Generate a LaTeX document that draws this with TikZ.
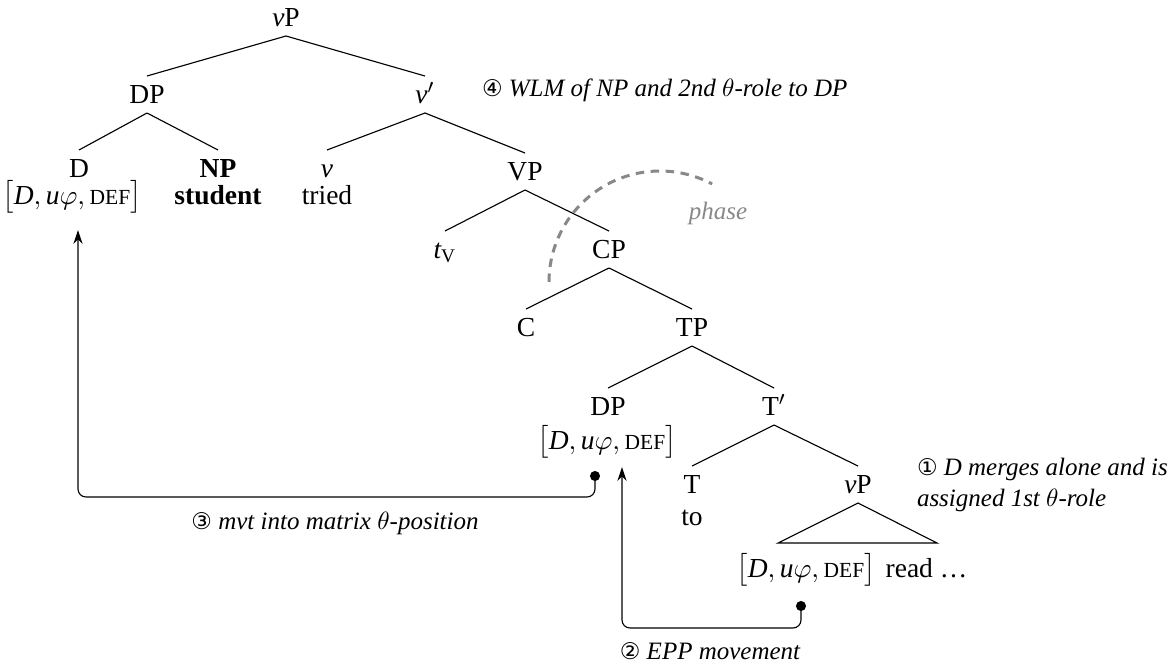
\documentclass[tikz,border=0pt]{standalone}
\usepackage{amsmath}
\usepackage{fontspec}
\setmainfont{Liberation Serif}
\newfontfamily\circfont{DejaVu Sans}[Scale=0.92]
\usetikzlibrary{arrows.meta}

\definecolor{phasegray}{RGB}{136,136,136}

% feature bundle of the determiner
\newcommand\smc[1]{{\fontsize{8.6pt}{9pt}\selectfont #1}}
\newcommand\feat{$\bigl[\textit{D}, \textit{u}\varphi, \text{\smc{DEF}}\bigr]$}
\newcommand\cn[1]{{\normalfont\circfont #1}}

\tikzset{
  tn/.style={anchor=base, inner sep=0pt, outer sep=0pt},
  branch/.style={line width=0.45pt},
  mvt/.style={line width=0.45pt, rounded corners=3.2pt,
    {Circle[length=4pt]}-{Stealth[length=5.5pt,width=3.6pt]}},
  note/.style={font=\fontsize{10pt}{12.4pt}\selectfont\itshape, inner sep=0pt,
    outer sep=0pt, anchor=base west},
  phaseline/.style={draw=phasegray, line width=1.2pt, dash pattern=on 3.4pt off 2.6pt},
}

\begin{document}
\fontsize{11pt}{13pt}\selectfont
\begin{tikzpicture}[x=0.4pt, y=-0.4pt]
\useasboundingbox (0,0) rectangle (1167,667);

% tree nodes (placed on their baselines)
\node[tn] (vP)      at (286,26)  {\textit{v}P};
\node[tn] (DP)      at (147,103) {DP};
\node[tn] (vbar)    at (425,103) {\textit{v}$'$};
\node[tn] (D)       at (79,177)  {D};
\node[tn] (Dfeat)   at (72,204)  {\feat};
\node[tn] (NP)      at (218,177) {\textbf{NP}};
\node[tn] (student) at (218,204) {\textbf{student}};
\node[tn] (v)       at (327,177) {\textit{v}};
\node[tn] (tried)   at (327,204) {tried};
\node[tn] (VP)      at (525,180) {VP};
\node[tn] (tV)      at (445,258) {$\textit{t}_{\text{V}}$};
\node[tn] (CP)      at (609,258) {CP};
\node[tn] (C)       at (526,336) {C};
\node[tn] (TP)      at (692,336) {TP};
\node[tn] (DPb)     at (608,415) {DP};
\node[tn] (DPbfeat) at (607,449) {\feat};
\node[tn] (Tbar)    at (774,415) {T$'$};
\node[tn] (T)       at (692,493) {T};
\node[tn] (to)      at (692,525) {to};
\node[tn] (vPb)     at (858,493) {\textit{v}P};
\node[tn] (vPfeat)  at (806,577) {\feat};
\node[tn, anchor=base west] (read) at ([xshift=4pt]vPfeat.base east) {read \dots};

% branches
\foreach \p/\c in {vP/DP, vP/vbar, DP/D, DP/NP, vbar/v, vbar/VP, VP/tV, VP/CP,
                   CP/C, CP/TP, TP/DPb, TP/Tbar, Tbar/T, Tbar/vPb}
  \draw[branch] ([yshift=-4pt]\p.base) -- ([yshift=10.8pt]\c.base);

% triangle over the lower vP
\draw[branch] ([yshift=-4pt]vPb.base) -- ++(-80,40) -- ++(159,0) -- cycle;

% phase boundary
\draw[phaseline] (549,282) arc[start angle=180, end angle=298, radius=111];
\node[note, anchor=base, text=phasegray] (phase) at (718,219) {phase};

% movement arrows
\coordinate (s2) at ([xshift=-2pt,yshift=-9.6pt]vPfeat.base);
\coordinate (e2) at ([xshift=6pt,yshift=-7.2pt]DPbfeat.base);
\coordinate (low2) at (0,628);
\draw[mvt] (s2) -- (s2 |- low2) -- (e2 |- low2) -- (e2);

\coordinate (s3) at ([xshift=-4.8pt,yshift=-8.8pt]DPbfeat.base);
\coordinate (e3) at ([xshift=2.4pt,yshift=-10.4pt]Dfeat.base);
\coordinate (low3) at (0,497);
\draw[mvt] (s3) -- (s3 |- low3) -- (e3 |- low3) -- (e3);

% annotations
\node[note] (n4) at (482,96) {\cn{④} WLM of NP and 2nd $\theta$-role to DP};
\node[note, align=left, anchor=north west] (n1) at (917,458)
  {\cn{①} D merges alone and is\\ assigned 1st $\theta$-role};
\node[note, anchor=base] (n2) at (710,659) {\cn{②} EPP movement};
\node[note, anchor=base] (n3) at (335,529) {\cn{③} mvt into matrix $\theta$-position};
\end{tikzpicture}
\end{document}
